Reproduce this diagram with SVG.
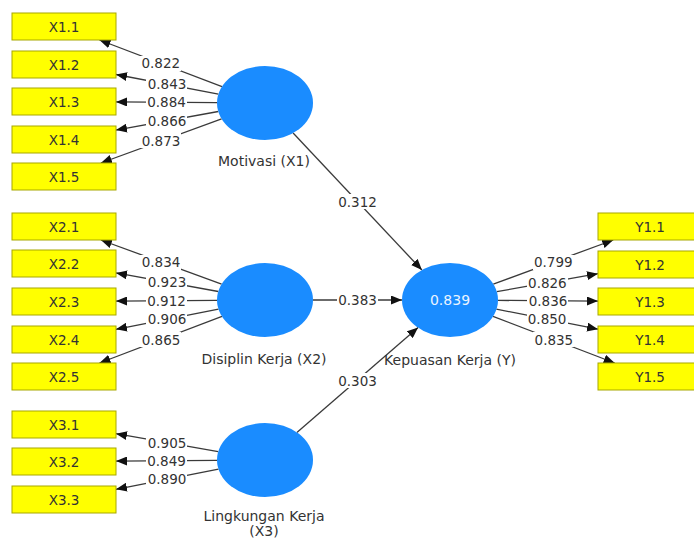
<svg xmlns="http://www.w3.org/2000/svg" width="694" height="539" viewBox="0 0 694 539">
<defs>
<marker id="arr" markerUnits="userSpaceOnUse" markerWidth="11" markerHeight="9" refX="11" refY="4.5" orient="auto">
<path d="M0,0 L11,4.5 L0,9 z" fill="#111"/>
</marker>
<style>
.box{fill:#ffff00;stroke:#a8a800;stroke-width:1}
.lv{fill:#1a8cff}
.bt{font-family:"DejaVu Sans",sans-serif;font-size:13.5px;fill:#333;text-anchor:middle}
.nl{font-family:"DejaVu Sans",sans-serif;font-size:14px;fill:#333;text-anchor:middle}
.ln{stroke:#3a3a3a;stroke-width:1.3;fill:none;marker-end:url(#arr)}
.lb{fill:#fff}
.et{font-family:"DejaVu Sans",sans-serif;font-size:13.5px;fill:#333;text-anchor:middle}
</style>
</defs>
<rect width="694" height="539" fill="#fff"/>
<g id="connectors">
<line class="ln" x1="222" y1="86.6" x2="99.5" y2="40"/>
<line class="ln" x1="218.4" y1="94.1" x2="116" y2="74.5"/>
<line class="ln" x1="217" y1="102.6" x2="116" y2="101.9"/>
<line class="ln" x1="218.3" y1="111.5" x2="116" y2="130.1"/>
<line class="ln" x1="221.6" y1="118.9" x2="100.9" y2="163"/>
<line class="ln" x1="221.6" y1="284.1" x2="100.9" y2="240"/>
<line class="ln" x1="218.3" y1="291.5" x2="116" y2="272.9"/>
<line class="ln" x1="217" y1="300.4" x2="116" y2="301.1"/>
<line class="ln" x1="218.5" y1="309.1" x2="116" y2="329.3"/>
<line class="ln" x1="222" y1="316.4" x2="99.5" y2="363"/>
<line class="ln" x1="218.2" y1="451.7" x2="116" y2="433.7"/>
<line class="ln" x1="217" y1="460.4" x2="116" y2="461.1"/>
<line class="ln" x1="218.5" y1="469.1" x2="116" y2="489.3"/>
<line class="ln" x1="493.3" y1="284.1" x2="613.3" y2="240"/>
<line class="ln" x1="496.8" y1="291.7" x2="598" y2="273.7"/>
<line class="ln" x1="498" y1="300.4" x2="598" y2="301.1"/>
<line class="ln" x1="496.3" y1="309.1" x2="598" y2="329.2"/>
<line class="ln" x1="493" y1="316.4" x2="614.7" y2="363"/>
<line class="ln" x1="293.1" y1="133" x2="421.9" y2="270"/>
<line class="ln" x1="313" y1="300" x2="402" y2="300"/>
<line class="ln" x1="296.9" y1="432.4" x2="418.1" y2="327.6"/>
<g>
<rect class="lb" x="140" y="56" width="41" height="15"/><text class="et" x="160.8" y="68.3">0.822</text>
<rect class="lb" x="146" y="77" width="41" height="15"/><text class="et" x="167" y="89">0.843</text>
<rect class="lb" x="146" y="95" width="41" height="15"/><text class="et" x="166.5" y="107">0.884</text>
<rect class="lb" x="146" y="113" width="41" height="15"/><text class="et" x="167" y="125.5">0.866</text>
<rect class="lb" x="140" y="133" width="41" height="15"/><text class="et" x="161" y="145.5">0.873</text>
<rect class="lb" x="140" y="255" width="41" height="15"/><text class="et" x="161" y="267">0.834</text>
<rect class="lb" x="146" y="275" width="41" height="15"/><text class="et" x="167" y="287">0.923</text>
<rect class="lb" x="146" y="293" width="41" height="15"/><text class="et" x="166.5" y="305.5">0.912</text>
<rect class="lb" x="146" y="312" width="41" height="15"/><text class="et" x="167" y="324">0.906</text>
<rect class="lb" x="140" y="332" width="41" height="15"/><text class="et" x="161" y="344.5">0.865</text>
<rect class="lb" x="146" y="435" width="41" height="15"/><text class="et" x="167" y="447.5">0.905</text>
<rect class="lb" x="146" y="453" width="41" height="15"/><text class="et" x="166.5" y="465.5">0.849</text>
<rect class="lb" x="146" y="472" width="41" height="15"/><text class="et" x="167" y="484">0.890</text>
<rect class="lb" x="533" y="255" width="41" height="15"/><text class="et" x="553.3" y="267">0.799</text>
<rect class="lb" x="527" y="275" width="41" height="15"/><text class="et" x="547.4" y="287.5">0.826</text>
<rect class="lb" x="527" y="293" width="41" height="15"/><text class="et" x="548" y="305.5">0.836</text>
<rect class="lb" x="527" y="312" width="41" height="15"/><text class="et" x="547.1" y="324">0.850</text>
<rect class="lb" x="533" y="332" width="41" height="15"/><text class="et" x="553.9" y="344.5">0.835</text>
<rect class="lb" x="337" y="194" width="41" height="15"/><text class="et" x="357.5" y="206.5">0.312</text>
<rect class="lb" x="337" y="293" width="41" height="15"/><text class="et" x="357.5" y="305">0.383</text>
<rect class="lb" x="337" y="373" width="41" height="15"/><text class="et" x="357.5" y="385.5">0.303</text>
</g>
</g>
<g id="X1.1"><rect class="box" x="12" y="13" width="104" height="27"/><text class="bt" x="64" y="31.5">X1.1</text></g>
<g id="X1.2"><rect class="box" x="12" y="51" width="104" height="27"/><text class="bt" x="64" y="69.5">X1.2</text></g>
<g id="X1.3"><rect class="box" x="12" y="88" width="104" height="27"/><text class="bt" x="64" y="106.5">X1.3</text></g>
<g id="X1.4"><rect class="box" x="12" y="126" width="104" height="27"/><text class="bt" x="64" y="144.5">X1.4</text></g>
<g id="X1.5"><rect class="box" x="12" y="163" width="104" height="27"/><text class="bt" x="64" y="181.5">X1.5</text></g>
<g id="X2.1"><rect class="box" x="12" y="213" width="104" height="27"/><text class="bt" x="64" y="231.5">X2.1</text></g>
<g id="X2.2"><rect class="box" x="12" y="250" width="104" height="27"/><text class="bt" x="64" y="268.5">X2.2</text></g>
<g id="X2.3"><rect class="box" x="12" y="288" width="104" height="27"/><text class="bt" x="64" y="306.5">X2.3</text></g>
<g id="X2.4"><rect class="box" x="12" y="326" width="104" height="27"/><text class="bt" x="64" y="344.5">X2.4</text></g>
<g id="X2.5"><rect class="box" x="12" y="363" width="104" height="27"/><text class="bt" x="64" y="381.5">X2.5</text></g>
<g id="X3.1"><rect class="box" x="12" y="411" width="104" height="27"/><text class="bt" x="64" y="429.5">X3.1</text></g>
<g id="X3.2"><rect class="box" x="12" y="448" width="104" height="27"/><text class="bt" x="64" y="466.5">X3.2</text></g>
<g id="X3.3"><rect class="box" x="12" y="486" width="104" height="27"/><text class="bt" x="64" y="504.5">X3.3</text></g>
<g id="Y1.1"><rect class="box" x="598" y="213" width="104" height="27"/><text class="bt" x="650" y="231.5">Y1.1</text></g>
<g id="Y1.2"><rect class="box" x="598" y="251" width="104" height="27"/><text class="bt" x="650" y="269.5">Y1.2</text></g>
<g id="Y1.3"><rect class="box" x="598" y="288" width="104" height="27"/><text class="bt" x="650" y="306.5">Y1.3</text></g>
<g id="Y1.4"><rect class="box" x="598" y="326" width="104" height="27"/><text class="bt" x="650" y="344.5">Y1.4</text></g>
<g id="Y1.5"><rect class="box" x="598" y="363" width="104" height="27"/><text class="bt" x="650" y="381.5">Y1.5</text></g>
<g id="Motivasi"><ellipse class="lv" cx="265" cy="103" rx="48" ry="37"/><text class="nl" x="264" y="166">Motivasi (X1)</text></g>
<g id="Disiplin"><ellipse class="lv" cx="265" cy="300" rx="48" ry="37"/><text class="nl" x="264" y="364">Disiplin Kerja (X2)</text></g>
<g id="Lingkungan"><ellipse class="lv" cx="265" cy="460" rx="48" ry="37"/><text class="nl" x="264" y="521">Lingkungan Kerja</text><text class="nl" x="264" y="536">(X3)</text></g>
<g id="Kepuasan"><ellipse class="lv" cx="450" cy="300" rx="48" ry="37"/><text class="nl" x="450" y="305" style="fill:#eaf4ff">0.839</text><text class="nl" x="450" y="365">Kepuasan Kerja (Y)</text></g>
</svg>
